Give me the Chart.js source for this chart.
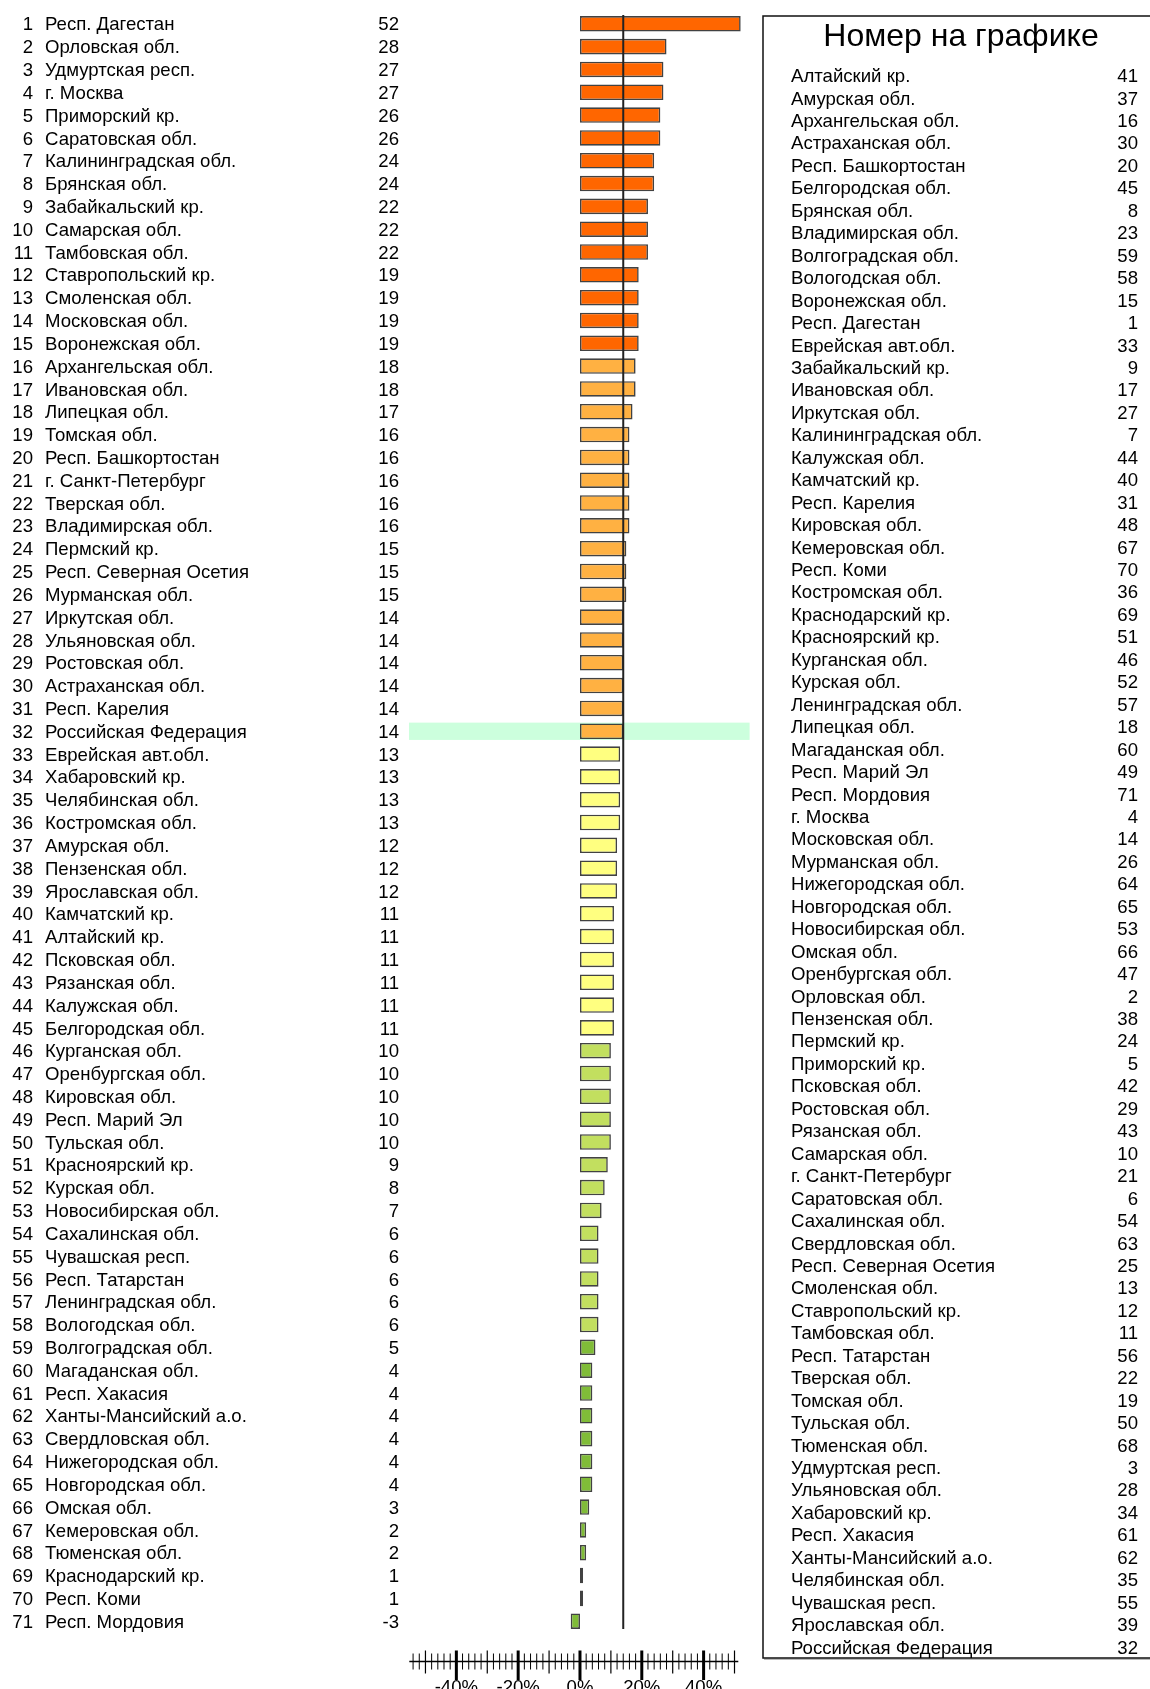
<!DOCTYPE html>
<html>
<head>
<meta charset="utf-8">
<script src="https://cdn.jsdelivr.net/npm/chart.js@4/dist/chart.umd.min.js"></script>
<style>
  html, body { margin: 0; padding: 0; background: #fff; }
  canvas { display: block; }
</style>
</head>
<body>
<canvas id="rank-chart" width="1150" height="1689"></canvas>
<script>
// ranked list, top to bottom
const regionNames = [
    'Респ. Дагестан', 'Орловская обл.', 'Удмуртская респ.', 'г. Москва', 'Приморский кр.',
    'Саратовская обл.', 'Калининградская обл.', 'Брянская обл.', 'Забайкальский кр.', 'Самарская обл.',
    'Тамбовская обл.', 'Ставропольский кр.', 'Смоленская обл.', 'Московская обл.', 'Воронежская обл.',
    'Архангельская обл.', 'Ивановская обл.', 'Липецкая обл.', 'Томская обл.', 'Респ. Башкортостан',
    'г. Санкт-Петербург', 'Тверская обл.', 'Владимирская обл.', 'Пермский кр.', 'Респ. Северная Осетия',
    'Мурманская обл.', 'Иркутская обл.', 'Ульяновская обл.', 'Ростовская обл.', 'Астраханская обл.',
    'Респ. Карелия', 'Российская Федерация', 'Еврейская авт.обл.', 'Хабаровский кр.', 'Челябинская обл.',
    'Костромская обл.', 'Амурская обл.', 'Пензенская обл.', 'Ярославская обл.', 'Камчатский кр.',
    'Алтайский кр.', 'Псковская обл.', 'Рязанская обл.', 'Калужская обл.', 'Белгородская обл.',
    'Курганская обл.', 'Оренбургская обл.', 'Кировская обл.', 'Респ. Марий Эл', 'Тульская обл.',
    'Красноярский кр.', 'Курская обл.', 'Новосибирская обл.', 'Сахалинская обл.', 'Чувашская респ.',
    'Респ. Татарстан', 'Ленинградская обл.', 'Вологодская обл.', 'Волгоградская обл.', 'Магаданская обл.',
    'Респ. Хакасия', 'Ханты-Мансийский а.о.', 'Свердловская обл.', 'Нижегородская обл.', 'Новгородская обл.',
    'Омская обл.', 'Кемеровская обл.', 'Тюменская обл.', 'Краснодарский кр.', 'Респ. Коми',
    'Респ. Мордовия'
];

const regionValues = [
    52, 28, 27, 27, 26, 26, 24, 24, 22, 22,
    22, 19, 19, 19, 19, 18, 18, 17, 16, 16,
    16, 16, 16, 15, 15, 15, 14, 14, 14, 14,
    14, 14, 13, 13, 13, 13, 12, 12, 12, 11,
    11, 11, 11, 11, 11, 10, 10, 10, 10, 10,
    9, 8, 7, 6, 6, 6, 6, 6, 5, 4,
    4, 4, 4, 4, 4, 3, 2, 2, 1, 1,
    -3
];

// order of the lookup box on the right
const legendOrder = [
    'Алтайский кр.', 'Амурская обл.', 'Архангельская обл.', 'Астраханская обл.', 'Респ. Башкортостан',
    'Белгородская обл.', 'Брянская обл.', 'Владимирская обл.', 'Волгоградская обл.', 'Вологодская обл.',
    'Воронежская обл.', 'Респ. Дагестан', 'Еврейская авт.обл.', 'Забайкальский кр.', 'Ивановская обл.',
    'Иркутская обл.', 'Калининградская обл.', 'Калужская обл.', 'Камчатский кр.', 'Респ. Карелия',
    'Кировская обл.', 'Кемеровская обл.', 'Респ. Коми', 'Костромская обл.', 'Краснодарский кр.',
    'Красноярский кр.', 'Курганская обл.', 'Курская обл.', 'Ленинградская обл.', 'Липецкая обл.',
    'Магаданская обл.', 'Респ. Марий Эл', 'Респ. Мордовия', 'г. Москва', 'Московская обл.',
    'Мурманская обл.', 'Нижегородская обл.', 'Новгородская обл.', 'Новосибирская обл.', 'Омская обл.',
    'Оренбургская обл.', 'Орловская обл.', 'Пензенская обл.', 'Пермский кр.', 'Приморский кр.',
    'Псковская обл.', 'Ростовская обл.', 'Рязанская обл.', 'Самарская обл.', 'г. Санкт-Петербург',
    'Саратовская обл.', 'Сахалинская обл.', 'Свердловская обл.', 'Респ. Северная Осетия', 'Смоленская обл.',
    'Ставропольский кр.', 'Тамбовская обл.', 'Респ. Татарстан', 'Тверская обл.', 'Томская обл.',
    'Тульская обл.', 'Тюменская обл.', 'Удмуртская респ.', 'Ульяновская обл.', 'Хабаровский кр.',
    'Респ. Хакасия', 'Ханты-Мансийский а.о.', 'Челябинская обл.', 'Чувашская респ.', 'Ярославская обл.',
    'Российская Федерация'
];

const axisLabelValues = [-40, -20, 0, 20, 40];
const legendTitle = 'Номер на графике';
const countryName = 'Российская Федерация';

const FONT = '18.6px "Liberation Sans", Arial, sans-serif';

function barColor(v) {
    if (v >= 19) return '#FF6600';
    if (v >= 14) return '#FFB142';
    if (v >= 11) return '#FFFF80';
    if (v >= 6) return '#C2DF5F';
    return '#80BC38';
}

// light green band behind the country row
const rowHighlight = {
    id: 'rowHighlight',
    beforeDatasetsDraw(chart) {
        const { ctx, scales: { x, y } } = chart;
        const idx = regionNames.indexOf(countryName);
        const cy = y.getPixelForValue(idx);
        ctx.save();
        ctx.fillStyle = '#CCFFDD';
        ctx.fillRect(x.left - 1, cy - 8.6, x.right - x.left + 13, 17.3);
        ctx.restore();
    }
};

// country value as vertical reference line
const meanLine = {
    id: 'meanLine',
    afterDatasetsDraw(chart) {
        const { ctx, chartArea, scales: { x } } = chart;
        const px = x.getPixelForValue(regionValues[regionNames.indexOf(countryName)]);
        ctx.save();
        ctx.strokeStyle = '#222';
        ctx.lineWidth = 2;
        ctx.beginPath();
        ctx.moveTo(px, chartArea.top + 2.5);
        ctx.lineTo(px, chartArea.bottom - 3.5);
        ctx.stroke();
        ctx.restore();
    }
};

// rank / name / value columns on the left
const textColumns = {
    id: 'textColumns',
    afterDraw(chart) {
        const { ctx, scales: { y } } = chart;
        ctx.save();
        ctx.font = FONT;
        ctx.fillStyle = '#000';
        ctx.textBaseline = 'middle';
        regionNames.forEach((name, i) => {
            const cy = y.getPixelForValue(i) + 1.5;
            ctx.textAlign = 'right';
            ctx.fillText(String(i + 1), 33, cy);
            ctx.fillText(String(regionValues[i]), 399, cy);
            ctx.textAlign = 'left';
            ctx.fillText(name, 45, cy);
        });
        ctx.restore();
    }
};

// x axis with crossing ticks, detached below the bars
const xAxisDraw = {
    id: 'xAxisDraw',
    afterDraw(chart) {
        const { ctx, scales: { x } } = chart;
        const ay = 1661.5;
        ctx.save();
        ctx.strokeStyle = '#000';
        ctx.lineWidth = 1.5;
        ctx.beginPath();
        ctx.moveTo(x.getPixelForValue(x.min) - 0.7, ay);
        ctx.lineTo(x.getPixelForValue(x.max) + 0.7, ay);
        ctx.stroke();

        for (let v = -54; v <= 50; v += 2) {
            const px = x.getPixelForValue(v);
            ctx.beginPath();
            if (v % 20 === 0) {
                ctx.lineWidth = 3;
                ctx.moveTo(px, ay - 11);
                ctx.lineTo(px, ay + 18.5);
            } else if (v % 10 === 0) {
                ctx.lineWidth = 1.2;
                ctx.moveTo(px, ay - 11);
                ctx.lineTo(px, ay + 12);
            } else {
                ctx.lineWidth = 1;
                ctx.moveTo(px, ay - 8);
                ctx.lineTo(px, ay + 8);
            }
            ctx.stroke();
        }

        ctx.font = FONT;
        ctx.fillStyle = '#000';
        ctx.textAlign = 'center';
        ctx.textBaseline = 'alphabetic';
        axisLabelValues.forEach(v => {
            ctx.fillText(`${v}%`, x.getPixelForValue(v), 1693);
        });
        ctx.restore();
    }
};

// lookup box: name -> number on the chart
const legendBox = {
    id: 'legendBox',
    afterDraw(chart) {
        const { ctx } = chart;
        const left = 763, top = 16, bottom = 1658;
        ctx.save();
        ctx.strokeStyle = '#999';
        ctx.lineWidth = 1;
        ctx.beginPath();
        ctx.moveTo(left + 1, bottom + 1.2);
        ctx.lineTo(1160, bottom + 1.2);
        ctx.stroke();
        ctx.strokeStyle = '#111';
        ctx.lineWidth = 1.5;
        ctx.strokeRect(left, top, 1160 - left, bottom - top);

        ctx.fillStyle = '#000';
        ctx.font = '32px "Liberation Sans", Arial, sans-serif';
        ctx.textAlign = 'center';
        ctx.textBaseline = 'middle';
        ctx.fillText(legendTitle, 961, 37);

        ctx.font = FONT;
        legendOrder.forEach((name, i) => {
            const cy = 77 + i * 22.45;
            ctx.textAlign = 'left';
            ctx.fillText(name, 791, cy);
            ctx.textAlign = 'right';
            ctx.fillText(String(regionNames.indexOf(name) + 1), 1138, cy);
        });
        ctx.restore();
    }
};

const chartCtx = document.getElementById('rank-chart').getContext('2d');
new Chart(chartCtx, {
    type: 'bar',
    data: {
        labels: regionNames,
        datasets: [{
            data: regionValues,
            backgroundColor: c => barColor(c.raw),
            borderColor: 'rgba(45,45,45,0.9)',
            borderWidth: 1.6,
            borderSkipped: false,
            barPercentage: 0.68,
            categoryPercentage: 1,
            clip: false
        }]
    },
    options: {
        indexAxis: 'y',
        responsive: false,
        animation: false,
        layout: {
            padding: { left: 410, right: 412.4, top: 12.4, bottom: 56.4 }
        },
        scales: {
            x: { display: false, min: -55, max: 51 },
            y: { display: false }
        },
        plugins: {
            legend: { display: false },
            tooltip: { enabled: false }
        }
    },
    plugins: [rowHighlight, meanLine, textColumns, xAxisDraw, legendBox]
});
</script>
</body>
</html>
